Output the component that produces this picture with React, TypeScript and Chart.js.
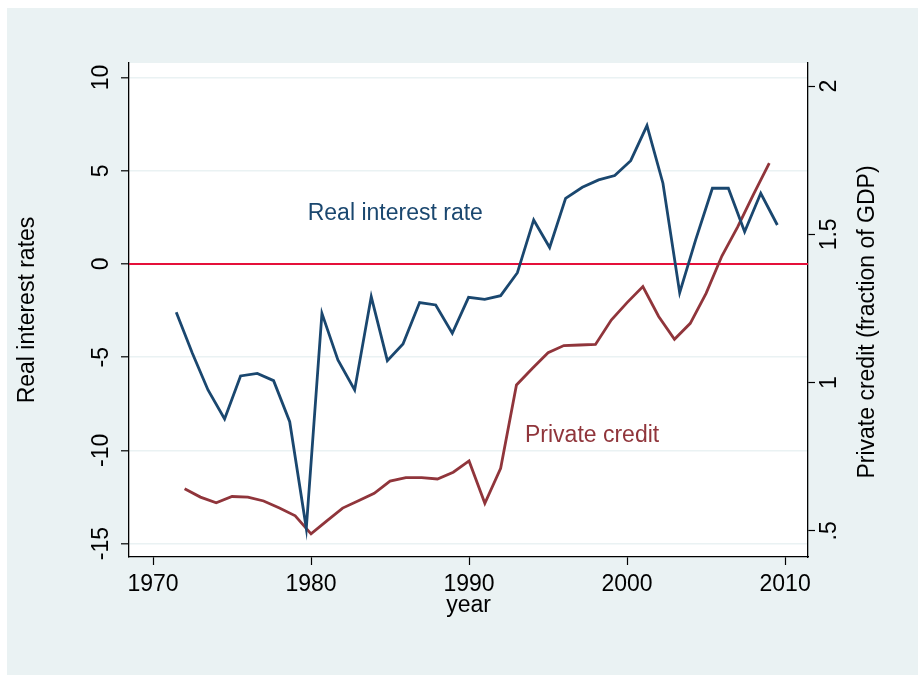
import React, { useEffect, useRef } from 'react';
import { Chart, registerables } from 'chart.js';

Chart.register(...registerables);

// real interest rate (left axis), x positions
const rateYears = [
  1971.47, 1972.49, 1973.48, 1974.53, 1975.54, 1976.6, 1977.63, 1978.65, 1979.7, 1980.69,
  1981.7, 1982.76, 1983.81, 1984.83, 1985.82, 1986.87, 1987.89, 1988.94, 1989.97, 1990.99,
  1992.0, 1993.06, 1994.09, 1995.1, 1996.11, 1997.17, 1998.2, 1999.22, 2000.23, 2001.26,
  2002.27, 2003.33, 2004.34, 2005.4, 2006.41, 2007.44, 2008.46, 2009.51,
];
const rateValues = [
  -2.59, -4.79, -6.76, -8.32, -6.01, -5.87, -6.26, -8.46, -14.18, -2.65,
  -5.15, -6.76, -1.75, -5.19, -4.29, -2.07, -2.2, -3.72, -1.79, -1.9,
  -1.7, -0.47, 2.36, 0.88, 3.52, 4.11, 4.51, 4.74, 5.54, 7.42,
  4.33, -1.54, 1.29, 4.06, 4.06, 1.73, 3.79, 2.09,
];

// private credit, fraction of GDP (right axis)
const creditYears = [
  1972, 1973, 1974, 1975, 1976, 1977, 1978, 1979, 1980, 1981,
  1982, 1983, 1984, 1985, 1986, 1987, 1988, 1989, 1990, 1991,
  1992, 1993, 1994, 1995, 1996, 1997, 1998, 1999, 2000, 2001,
  2002, 2003, 2004, 2005, 2006, 2007, 2008, 2009,
];
const creditValues = [
  0.642, 0.614, 0.595, 0.616, 0.614, 0.601, 0.577, 0.551, 0.49, 0.534,
  0.577, 0.602, 0.627, 0.668, 0.68, 0.68, 0.675, 0.698, 0.736, 0.593,
  0.711, 0.992, 1.048, 1.101, 1.125, 1.127, 1.129, 1.211, 1.27, 1.324,
  1.223, 1.146, 1.2, 1.301, 1.427, 1.525, 1.635, 1.74,
];

const xTicks = [1970, 1980, 1990, 2000, 2010];
const leftTicks = [-15, -10, -5, 0, 5, 10];
const rightTicks = [0.5, 1, 1.5, 2];
const rightTickLabels = ['.5', '1', '1.5', '2'];
const zeroLine = 0;

const FONT = '"Liberation Sans", Arial, sans-serif';
const BLUE = '#1A476F';
const MAROON = '#90353B';

const plotBits = {
  id: 'plotBits',
  beforeDraw(chart: any) {
    const { ctx, chartArea: a } = chart;
    ctx.save();
    ctx.fillStyle = '#ffffff';
    ctx.fillRect(a.left, a.top, a.right - a.left, a.bottom - a.top);
    ctx.restore();
  },
  beforeDatasetsDraw(chart: any) {
    const { ctx, chartArea: a, scales } = chart;
    const y = scales.y.getPixelForValue(zeroLine);
    ctx.save();
    ctx.strokeStyle = '#E5103A';
    ctx.lineWidth = 2;
    ctx.beginPath();
    ctx.moveTo(a.left, y);
    ctx.lineTo(a.right, y);
    ctx.stroke();
    ctx.restore();
  },
  afterDraw(chart: any) {
    const { ctx, chartArea: a, scales } = chart;
    ctx.save();
    ctx.font = `23px ${FONT}`;
    ctx.textBaseline = 'alphabetic';
    ctx.textAlign = 'left';
    ctx.fillStyle = BLUE;
    ctx.fillText('Real interest rate', scales.x.getPixelForValue(1979.79), scales.y.getPixelForValue(2.36));
    ctx.fillStyle = MAROON;
    ctx.fillText('Private credit', scales.x.getPixelForValue(1993.54), scales.y.getPixelForValue(-9.53));
    // right axis title, reading bottom to top
    ctx.fillStyle = '#000';
    ctx.translate(scales.y1.right - 50, (a.top + a.bottom) / 2 + 12);
    ctx.rotate(-Math.PI / 2);
    ctx.textAlign = 'center';
    ctx.textBaseline = 'middle';
    ctx.fillText('Private credit (fraction of GDP)', 0, 0);
    ctx.restore();
  },
};

export default function App() {
  const canvasRef = useRef<HTMLCanvasElement>(null);

  useEffect(() => {
    if (!canvasRef.current) return;
    const chart = new Chart(canvasRef.current, {
      type: 'line',
      data: {
        datasets: [
          {
            label: 'Real interest rate',
            data: rateYears.map((x, i) => ({ x, y: rateValues[i] })),
            borderColor: BLUE,
            borderWidth: 2.8,
            pointRadius: 0,
            tension: 0,
            yAxisID: 'y',
          },
          {
            label: 'Private credit',
            data: creditYears.map((x, i) => ({ x, y: creditValues[i] })),
            borderColor: MAROON,
            borderWidth: 2.8,
            pointRadius: 0,
            tension: 0,
            yAxisID: 'y1',
          },
        ],
      },
      options: {
        animation: false,
        responsive: false,
        layout: { padding: { top: 55, left: 0, right: 0, bottom: 0 } },
        plugins: { legend: { display: false }, tooltip: { enabled: false } },
        scales: {
          x: {
            type: 'linear',
            min: 1968.48,
            max: 2011.45,
            afterFit: (s: any) => { s.height = 118; },
            afterBuildTicks: (s: any) => { s.ticks = xTicks.map((v) => ({ value: v })); },
            grid: { drawOnChartArea: false, tickLength: 8, tickColor: '#000', tickWidth: 1.2 },
            border: { color: '#000', width: 1.3 },
            ticks: {
              autoSkip: false,
              maxRotation: 0,
              padding: 6,
              color: '#000',
              font: { family: FONT, size: 23 },
              callback: (v: any) => String(v),
            },
            title: {
              display: true,
              text: 'year',
              color: '#000',
              font: { family: FONT, size: 23 },
              padding: { top: 0, bottom: 55.5 },
            },
          },
          y: {
            type: 'linear',
            position: 'left',
            min: -15.72,
            max: 10.78,
            afterFit: (s: any) => { s.width = 122; },
            afterBuildTicks: (s: any) => { s.ticks = leftTicks.map((v) => ({ value: v })); },
            grid: { color: '#EAF2F3', lineWidth: 1.6, tickLength: 8, tickColor: '#000', tickWidth: 1.2 },
            border: { color: '#000', width: 1.3 },
            ticks: {
              autoSkip: false,
              minRotation: 90,
              maxRotation: 90,
              crossAlign: 'center',
              padding: 2.4,
              color: '#000',
              font: { family: FONT, size: 23 },
              callback: (v: any) => String(v),
            },
            title: {
              display: true,
              text: 'Real interest rates',
              color: '#000',
              font: { family: FONT, size: 23 },
              padding: { top: 7.2, bottom: 0 },
            },
          },
          y1: {
            type: 'linear',
            position: 'right',
            min: 0.412,
            max: 2.078,
            afterFit: (s: any) => { s.width = 110; },
            afterBuildTicks: (s: any) => { s.ticks = rightTicks.map((v) => ({ value: v })); },
            grid: { drawOnChartArea: false, tickLength: 7, tickColor: '#000', tickWidth: 1.2 },
            border: { color: '#000', width: 1.3 },
            ticks: {
              autoSkip: false,
              minRotation: 90,
              maxRotation: 90,
              crossAlign: 'center',
              padding: -1,
              color: '#000',
              font: { family: FONT, size: 23 },
              callback: (v: any) => rightTickLabels[rightTicks.indexOf(v)] ?? String(v),
            },
          },
        },
      },
      plugins: [plotBits],
    });

    return () => {
      chart.destroy();
    };
  }, []);

  return (
    <div
      style={{
        position: 'fixed',
        left: 7,
        top: 8,
        width: 911,
        height: 667,
        background: '#EAF2F3',
      }}
    >
      <canvas ref={canvasRef} width={911} height={667}></canvas>
    </div>
  );
}
